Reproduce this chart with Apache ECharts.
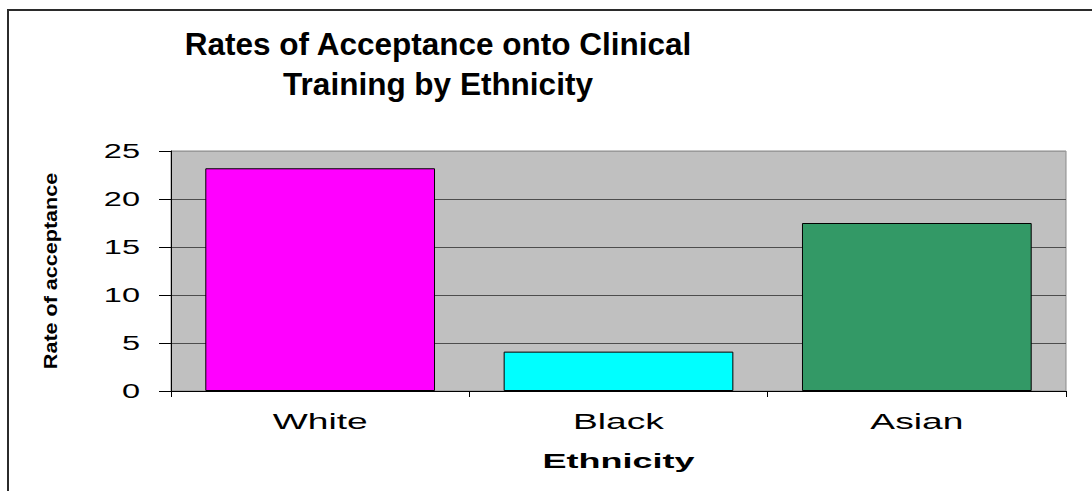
<!DOCTYPE html>
<html>
<head>
<meta charset="utf-8">
<script src="https://cdn.jsdelivr.net/npm/echarts@6/dist/echarts.min.js"></script>
<style>
  html, body { margin: 0; padding: 0; background: #fff; }
  #chart { width: 1092px; height: 491px; }
</style>
</head>
<body>
<div id="chart"></div>
<script>
// Chart content
const titleLines = ['Rates of Acceptance onto Clinical', 'Training by Ethnicity'];
const categories = ['White', 'Black', 'Asian'];
const acceptanceRates = [23.2, 4.1, 17.5];
const yTicks = [0, 5, 10, 15, 20, 25];
const xAxisTitle = 'Ethnicity';
const yAxisTitle = 'Rate of acceptance';

// Styling
const barColors = ['#FF00FF', '#00FFFF', '#339966'];
const FONT = '"Liberation Sans", Arial, sans-serif';

const chart = echarts.init(document.getElementById('chart'), null, { renderer: 'svg' });

// Gridlines are dark; the one at the top of the plot blends with the light frame.
const gridColors = yTicks.map((v, i) => (i === yTicks.length - 1 ? '#9a9a9a' : '#4d4d4d'));

chart.setOption({
  animation: false,
  backgroundColor: '#ffffff',
  title: {
    text: titleLines.join('\n'),
    left: 438,
    top: 24,
    textAlign: 'center',
    padding: 0,
    textStyle: { fontFamily: FONT, fontSize: 31.5, fontWeight: 'bold', color: '#000', lineHeight: 40 }
  },
  graphic: [{
    type: 'rect',
    silent: true,
    z: 100,
    shape: { x: 8, y: 10, width: 1200, height: 600 },
    style: { fill: 'none', stroke: '#2b2b2b', lineWidth: 2 }
  }],
  grid: {
    left: 171, top: 151, right: 26, bottom: 100,
    show: true, backgroundColor: '#C0C0C0', borderColor: '#8a8a8a', borderWidth: 1
  },
  xAxis: {
    type: 'category',
    data: categories,
    name: xAxisTitle,
    nameLocation: 'middle',
    nameGap: 60,
    nameTextStyle: { fontFamily: FONT, fontSize: 20, fontWeight: 'bold', color: '#000' },
    axisLine: { lineStyle: { color: '#000', width: 1 } },
    axisTick: { show: true, length: 6, lineStyle: { color: '#000' } },
    axisLabel: { margin: 19, fontFamily: FONT, fontSize: 22, color: '#000' },
    splitLine: { show: false }
  },
  yAxis: {
    type: 'value',
    min: yTicks[0],
    max: yTicks[yTicks.length - 1],
    interval: yTicks[1] - yTicks[0],
    name: yAxisTitle,
    nameLocation: 'middle',
    nameGap: 109,
    nameRotate: 90,
    nameTextStyle: { fontFamily: FONT, fontSize: 22, fontWeight: 'bold', color: '#000' },
    axisLine: { show: true, lineStyle: { color: '#000', width: 1 } },
    axisTick: { show: true, length: 12, lineStyle: { color: '#000' } },
    axisLabel: { margin: 31, fontFamily: FONT, fontSize: 21, color: '#000' },
    splitLine: { show: true, lineStyle: { color: gridColors, width: 1 } }
  },
  series: [{
    type: 'bar',
    data: acceptanceRates.map((v, i) => ({ value: v, itemStyle: { color: barColors[i] } })),
    barCategoryGap: '23%',
    itemStyle: { borderColor: '#000', borderWidth: 1 }
  }]
});

// Axis texts are set in a horizontally widened face; stretch each around its own anchor.
const stretchRules = [
  { match: s => categories.includes(s), sx: 1.69, sy: 1 },
  { match: s => yTicks.map(String).includes(s), sx: 1.55, sy: 1 },
  { match: s => s === xAxisTitle, sx: 1.8, sy: 1 },
  { match: s => s === yAxisTitle, sx: 0.98, sy: 0.8 }
];

function widenTexts() {
  document.querySelectorAll('#chart text').forEach(el => {
    if (el.getAttribute('data-widened')) return;
    const rule = stretchRules.find(r => r.match(el.textContent));
    if (!rule) return;
    const x = parseFloat(el.getAttribute('x') || '0');
    const y = parseFloat(el.getAttribute('y') || '0');
    const tf = el.getAttribute('transform') || '';
    el.setAttribute('transform',
      `${tf} translate(${x} ${y}) scale(${rule.sx} ${rule.sy}) translate(${-x} ${-y})`);
    el.setAttribute('data-widened', '1');
  });
}
chart.on('finished', widenTexts);
setTimeout(widenTexts, 300);
</script>
</body>
</html>
